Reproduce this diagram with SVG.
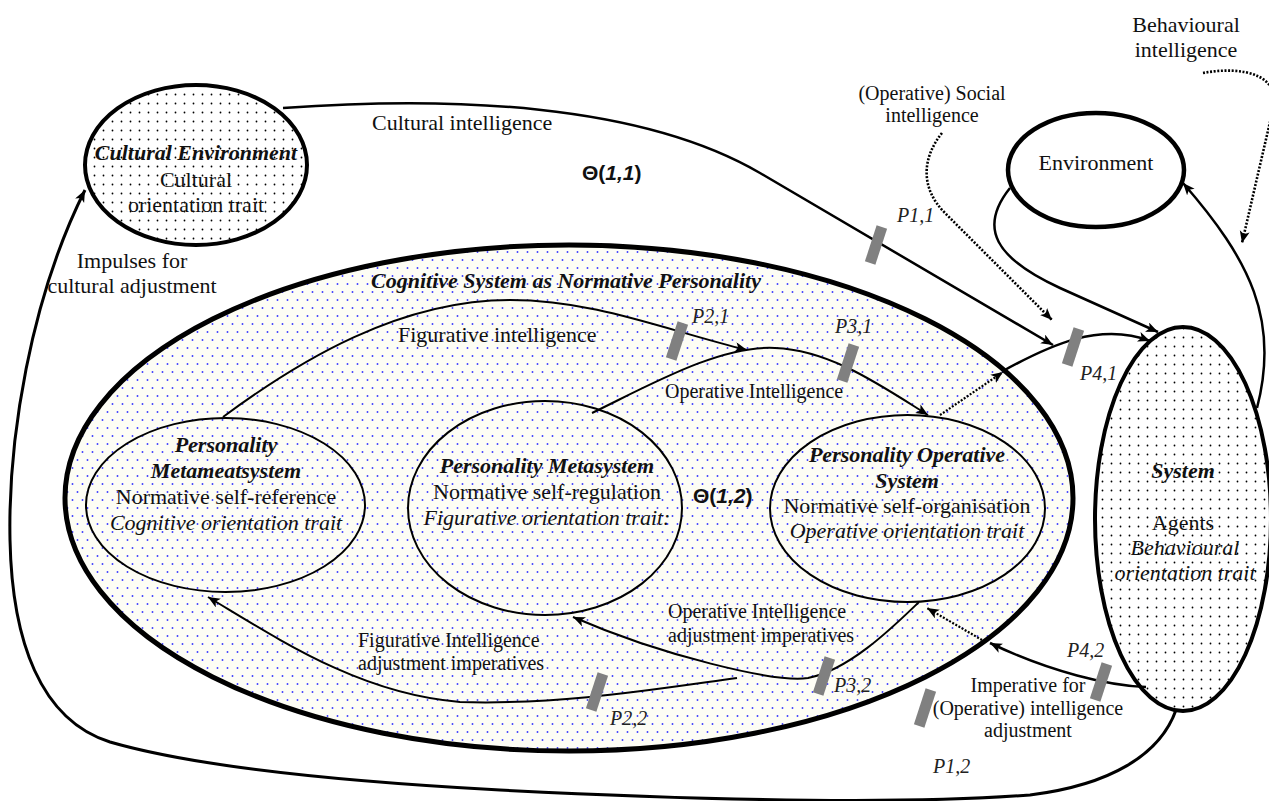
<svg xmlns="http://www.w3.org/2000/svg" xmlns:xlink="http://www.w3.org/1999/xlink" width="1269" height="801" viewBox="0 0 1269 801">
<style>
text{font-family:"Liberation Serif","Times New Roman",serif;fill:#111;}
.n{font-size:22px;}
.s{font-size:20px;}
.bi{font-weight:bold;font-style:italic;}
.i{font-style:italic;}
.p{font-size:20px;font-style:italic;fill:#222;}
.th{font-family:"Liberation Sans",Arial,sans-serif;font-weight:bold;font-size:21px;}
.c{text-anchor:middle;}
.ln{fill:none;stroke:#000;stroke-width:2.5;}
.thin{fill:none;stroke:#000;stroke-width:2;}
.dot{fill:none;stroke:#000;stroke-width:2.6;stroke-dasharray:2 1.6;}
</style>
<defs>
<pattern id="bk" width="9" height="9" patternUnits="userSpaceOnUse">
<rect width="9" height="9" fill="#fff"/>
<circle cx="4.5" cy="4.5" r="0.9" fill="#000"/>
</pattern>
<pattern id="bl" width="10" height="16" patternUnits="userSpaceOnUse">
<rect width="10" height="16" fill="#fdfdf5"/>
<circle cx="2.5" cy="4" r="0.95" fill="#3c3cff"/>
<circle cx="7.5" cy="12" r="0.95" fill="#3c3cff"/>
</pattern>
<marker id="ah" markerWidth="14" markerHeight="12" refX="12" refY="5" orient="auto" markerUnits="userSpaceOnUse">
<path d="M0,0 L12,5 L0,10 L3,5 z" fill="#000"/>
</marker>
<rect id="bar" x="-5.5" y="-19" width="11" height="38" fill="#808080"/>
</defs>

<rect width="1269" height="801" fill="#fff"/>

<g id="cognitive-system">
<ellipse cx="569" cy="498" rx="504" ry="253" fill="url(#bl)" stroke="#000" stroke-width="5"/>
<text class="n bi c" x="566" y="288">Cognitive System as Normative Personality</text>
</g>

<g id="metameatsystem">
<ellipse cx="225.5" cy="505" rx="139.5" ry="87" fill="none" stroke="#000" stroke-width="2"/>
<text class="n bi c" x="226" y="452">Personality</text>
<text class="n bi c" x="226" y="478">Metameatsystem</text>
<text class="n c" x="226" y="504">Normative self-reference</text>
<text class="n i c" x="226" y="530">Cognitive orientation trait</text>
</g>

<g id="metasystem">
<ellipse cx="545" cy="508" rx="137" ry="107" fill="none" stroke="#000" stroke-width="2"/>
<text class="n bi c" x="547" y="473">Personality Metasystem</text>
<text class="n c" x="547" y="499">Normative self-regulation</text>
<text class="n i c" x="547" y="525">Figurative orientation trait:</text>
</g>

<g id="operative-system">
<ellipse cx="907.5" cy="508.5" rx="137.5" ry="93.5" fill="none" stroke="#000" stroke-width="2"/>
<text class="n bi c" x="907" y="462">Personality Operative</text>
<text class="n bi c" x="907" y="488">System</text>
<text class="n c" x="907" y="513">Normative self-organisation</text>
<text class="n i c" x="907" y="538">Operative orientation trait</text>
</g>

<g id="cultural-environment">
<ellipse cx="196" cy="165" rx="111" ry="80" fill="url(#bk)" stroke="#000" stroke-width="4"/>
<text class="n bi c" x="196" y="160">Cultural Environment</text>
<text class="n c" x="196" y="187">Cultural</text>
<text class="n c" x="196" y="212">orientation trait</text>
</g>

<g id="environment">
<ellipse cx="1096" cy="170" rx="88" ry="57" fill="#fff" stroke="#000" stroke-width="4.5"/>
<text class="n c" x="1096" y="170">Environment</text>
</g>

<g id="system">
<ellipse cx="1183" cy="519" rx="88" ry="192" fill="url(#bk)" stroke="#000" stroke-width="4"/>
<text class="n bi c" x="1183" y="478">System</text>
<text class="n c" x="1183" y="530">Agents</text>
<text class="n i c" x="1185" y="555">Behavioural</text>
<text class="n i c" x="1185" y="580">orientation trait</text>
</g>

<g id="connectors">
<path class="ln" d="M283,108 C450,96 640,103 760,173 L1053,345" marker-end="url(#ah)"/>
<path class="ln" d="M1010,188 C978,228 995,258 1060,288 L1158,332" marker-end="url(#ah)"/>
<path class="dot" d="M942,133 C922,158 920,188 945,213 L1052,320" marker-end="url(#ah)"/>
<path class="dot" d="M1203,73 C1240,66 1290,72 1270,122 L1242,243" marker-end="url(#ah)"/>
<path class="ln" d="M1257,408 C1280,320 1250,260 1183,183" marker-end="url(#ah)"/>
<path class="thin" d="M223,417 C300,360 400,300 510,300 C595,300 665,330 747,350" marker-end="url(#ah)"/>
<path class="thin" d="M592,413 C650,385 720,345 775,348 C830,350 880,385 928,415" marker-end="url(#ah)"/>
<path class="dot" style="stroke-width:2.2" d="M940,415 L1003,372" marker-end="url(#ah)"/>
<path class="ln" d="M1003,371 C1050,345 1100,322 1150,341" marker-end="url(#ah)"/>
<path class="thin" d="M919,602 C895,625 850,670 808,678 C775,683 660,655 573,617" marker-end="url(#ah)"/>
<path class="thin" d="M737,678 C650,690 560,705 460,702 C360,694 280,640 208,597" marker-end="url(#ah)"/>
<path class="ln" d="M1146,687 C1110,686 1050,672 990,643" marker-end="url(#ah)"/>
<path class="dot" style="stroke-width:2.2" d="M982,640 L927,608" marker-end="url(#ah)"/>
<path class="ln" style="stroke-width:3" d="M1176,710 C1160,755 1110,785 1030,795 C900,805 700,800 500,790 C350,782 200,768 110,742 C40,720 12,640 10,540 C8,440 30,300 85,190" marker-end="url(#ah)"/>
<use xlink:href="#bar" transform="translate(876,245) rotate(18)"/>
<use xlink:href="#bar" transform="translate(677,341) rotate(18)"/>
<use xlink:href="#bar" transform="translate(848,363) rotate(18)"/>
<use xlink:href="#bar" transform="translate(1073,347) rotate(18)"/>
<use xlink:href="#bar" transform="translate(597,692) rotate(18)"/>
<use xlink:href="#bar" transform="translate(824,676) rotate(18)"/>
<use xlink:href="#bar" transform="translate(925,708) rotate(18)"/>
<use xlink:href="#bar" transform="translate(1101,682) rotate(18)"/>
</g>

<g id="labels">
<text class="n" x="372" y="130">Cultural intelligence</text>
<text class="th" x="582" y="180">Θ(<tspan font-style="italic">1,1</tspan>)</text>
<text class="th" x="693" y="503">Θ(<tspan font-style="italic">1,2</tspan>)</text>
<text class="s c" x="932" y="100">(Operative) Social</text>
<text class="s c" x="932" y="122">intelligence</text>
<text class="n c" x="1186" y="32">Behavioural</text>
<text class="n c" x="1186" y="57">intelligence</text>
<text class="n c" x="132" y="268">Impulses for</text>
<text class="n c" x="132" y="293">cultural adjustment</text>
<text class="n" x="398" y="342">Figurative intelligence</text>
<text class="s" x="665" y="398">Operative Intelligence</text>
<text class="s" x="668" y="618">Operative Intelligence</text>
<text class="s" x="668" y="642">adjustment imperatives</text>
<text class="s" x="358" y="647">Figurative Intelligence</text>
<text class="s" x="358" y="670">adjustment imperatives</text>
<text class="s c" x="1028" y="692">Imperative for</text>
<text class="s c" x="1028" y="715">(Operative) intelligence</text>
<text class="s c" x="1028" y="737">adjustment</text>
<text class="p" x="897" y="222">P1,1</text>
<text class="p" x="692" y="323">P2,1</text>
<text class="p" x="835" y="333">P3,1</text>
<text class="p" x="1080" y="380">P4,1</text>
<text class="p" x="610" y="725">P2,2</text>
<text class="p" x="834" y="692">P3,2</text>
<text class="p" x="1067" y="657">P4,2</text>
<text class="p" x="933" y="773">P1,2</text>
</g>
</svg>
